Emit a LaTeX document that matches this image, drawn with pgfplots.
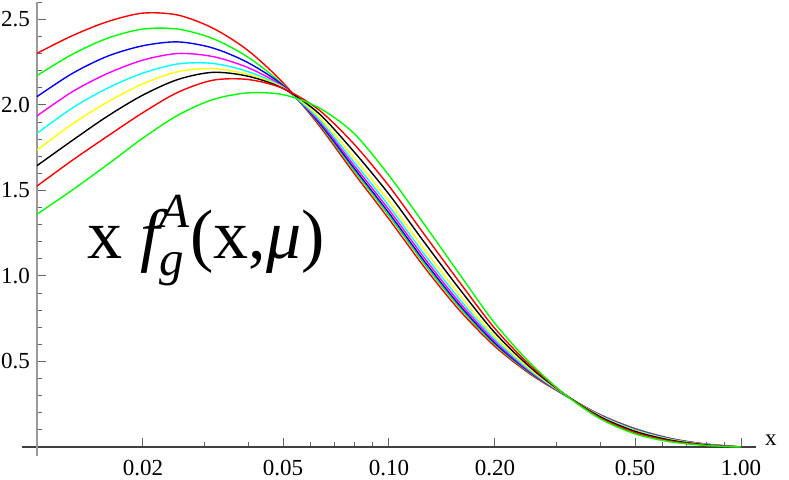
\documentclass[border=0pt]{standalone}
\usepackage{fontspec}
\setmainfont{Liberation Serif}
\usepackage{amsmath}
\usepackage{pgfplots}
\usepackage{pgfplotstable}
\pgfplotsset{compat=1.18}
\definecolor{mred}{RGB}{255,0,0}
\definecolor{mgreen}{RGB}{0,255,0}
\definecolor{mblue}{RGB}{0,0,255}
\definecolor{mmagenta}{RGB}{255,0,255}
\definecolor{mcyan}{RGB}{0,255,255}
\definecolor{myellow}{RGB}{255,255,0}
\pgfplotstableread{
x        ra    ga    b     m     c     y     k     rb    gb
0.010000 2.302 2.172 2.049 1.936 1.834 1.737 1.645 1.526 1.361
0.012589 2.405 2.296 2.184 2.077 1.982 1.888 1.792 1.676 1.502
0.015849 2.487 2.390 2.285 2.184 2.098 2.017 1.934 1.817 1.651
0.019953 2.537 2.444 2.346 2.262 2.186 2.123 2.057 1.954 1.805
0.025119 2.526 2.444 2.369 2.301 2.240 2.195 2.149 2.074 1.940
0.031623 2.449 2.388 2.333 2.283 2.243 2.213 2.191 2.145 2.032
0.039811 2.318 2.279 2.247 2.218 2.195 2.179 2.168 2.149 2.071
0.050119 2.128 2.116 2.112 2.106 2.102 2.100 2.096 2.096 2.060
0.063096 1.884 1.894 1.900 1.909 1.919 1.933 1.952 1.973 1.985
0.079433 1.603 1.620 1.633 1.649 1.668 1.693 1.728 1.773 1.835
0.100000 1.333 1.353 1.368 1.387 1.408 1.437 1.478 1.526 1.588
0.125893 1.053 1.073 1.088 1.107 1.128 1.157 1.198 1.244 1.303
0.158489 0.800 0.817 0.830 0.846 0.865 0.890 0.925 0.965 1.012
0.199526 0.590 0.601 0.609 0.620 0.632 0.648 0.670 0.695 0.725
0.251189 0.428 0.434 0.438 0.443 0.449 0.457 0.468 0.480 0.493
0.316228 0.302 0.303 0.303 0.304 0.305 0.306 0.307 0.307 0.307
0.398107 0.189 0.187 0.186 0.185 0.183 0.180 0.177 0.171 0.165
0.501187 0.107 0.105 0.103 0.101 0.099 0.095 0.091 0.083 0.076
0.630957 0.050 0.049 0.048 0.046 0.045 0.043 0.040 0.035 0.030
0.794328 0.017 0.016 0.016 0.016 0.015 0.014 0.013 0.011 0.009
1.000000 0.000 0.000 0.000 0.000 0.000 0.000 0.000 0.000 0.000
}\curves
\begin{document}
\begin{tikzpicture}
\begin{axis}[
  scale only axis,
  width=359.5pt, height=222.3pt,
  xmode=log, xmin=0.01, xmax=1.103, ymin=0, ymax=2.6,
  axis lines=left,
  x axis line style={-, draw=black!75, line width=0.6pt, shorten <=-7.5pt},
  y axis line style={-, draw=black!40, line width=0.9pt, shorten <=-4.5pt},
  tick align=inside,
  xtick={0.02,0.05,0.1,0.2,0.5,1},
  xticklabels={\textrm{0.02},\textrm{0.05},\textrm{0.10},\textrm{0.20},\textrm{0.50},\textrm{1.00}},
  minor xtick={0.03,0.04,0.06,0.07,0.08,0.09,0.3,0.4,0.6,0.7,0.8,0.9},
  ytick={0.5,1,1.5,2,2.5},
  yticklabels={\textrm{0.5},\textrm{1.0},\textrm{1.5},\textrm{2.0},\textrm{2.5}},
  minor ytick={0.1,0.2,0.3,0.4,0.6,0.7,0.8,0.9,1.1,1.2,1.3,1.4,1.6,1.7,1.8,1.9,2.1,2.2,2.3,2.4,2.6},
  major tick length=4.3pt, minor tick length=2.4pt,
  every tick/.style={black!60, line width=0.5pt},
  ticklabel style={font=\rmfamily\fontsize{11.5}{13}\selectfont},
  xticklabel style={yshift=-3pt},
  /pgf/number format/assume math mode=true,
  clip=false,
  every axis plot/.append style={smooth, no markers, line width=0.7pt},
]
\addplot[mred]     table[x=x, y=ra] {\curves};
\addplot[mgreen]   table[x=x, y=ga] {\curves};
\addplot[mblue]    table[x=x, y=b]  {\curves};
\addplot[mmagenta] table[x=x, y=m]  {\curves};
\addplot[mcyan]    table[x=x, y=c]  {\curves};
\addplot[myellow]  table[x=x, y=y]  {\curves};
\addplot[black]    table[x=x, y=k]  {\curves};
\addplot[mred]     table[x=x, y=rb] {\curves};
\addplot[mgreen]   table[x=x, y=gb] {\curves};
\node[anchor=base west, font=\rmfamily\fontsize{35}{40}\selectfont, inner sep=0pt] at (axis cs:0.0139,1.105) {x $\textit{f}_{\textit{g}}^{\textit{A}}$(x,\textit{μ})};
\node[anchor=west, font=\rmfamily\fontsize{11.5}{13}\selectfont] at (axis cs:1.118,0.041) {x};
\end{axis}
\pgfresetboundingbox
\path (-18.5pt,-16.5pt) rectangle (376pt,223.5pt);
\end{tikzpicture}
\end{document}
